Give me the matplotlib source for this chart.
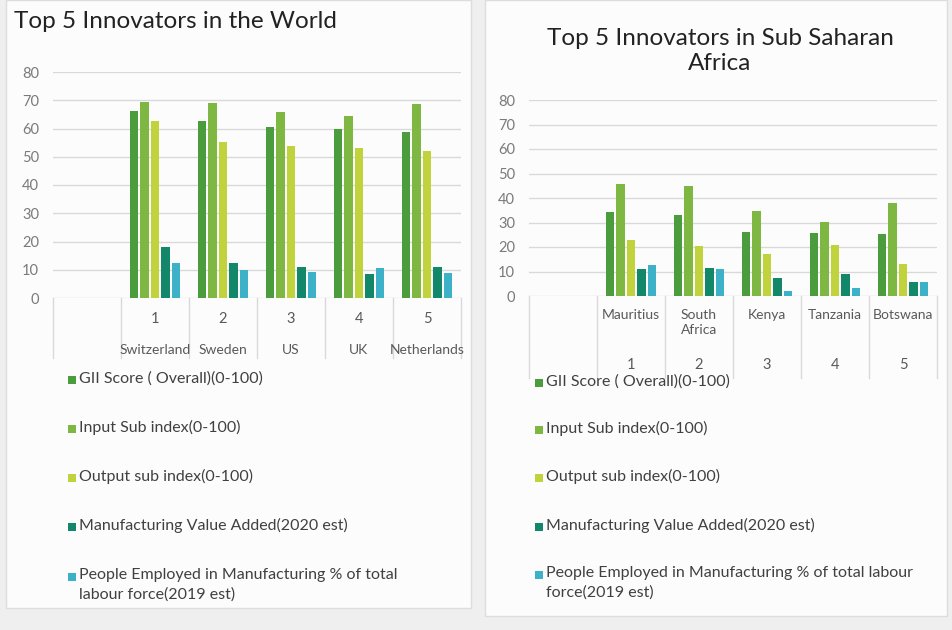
import matplotlib.pyplot as plt
from matplotlib.patches import Rectangle
from matplotlib.transforms import blended_transform_factory

plt.rcParams['font.family'] = ['Lato', 'DejaVu Sans']

# Series names and colours
series = ['GII Score ( Overall)(0-100)',
          'Input Sub index(0-100)',
          'Output sub index(0-100)',
          'Manufacturing Value Added(2020 est)',
          'People Employed in Manufacturing % of total\nlabour force(2019 est)']
series_right = series[:4] + ['People Employed in Manufacturing % of total labour\nforce(2019 est)']
colors = ['#4b9c3c', '#7fb743', '#c0d33d', '#13876a', '#3cb1c8']

# World top 5
world_countries = ['Switzerland', 'Sweden', 'US', 'UK', 'Netherlands']
world_gii = [66.1, 62.6, 60.4, 59.8, 58.6]
world_input = [69.4, 69.1, 66.0, 64.4, 68.8]
world_output = [62.7, 55.3, 53.8, 53.2, 52.0]
world_mva = [17.9, 12.4, 10.8, 8.4, 10.9]
world_people = [12.4, 9.8, 9.2, 10.6, 8.8]

# Sub Saharan Africa top 5
ssa_countries = ['Mauritius', 'South\nAfrica', 'Kenya', 'Tanzania', 'Botswana']
ssa_gii = [34.4, 33.0, 26.0, 25.6, 25.3]
ssa_input = [45.6, 44.9, 34.8, 30.3, 37.8]
ssa_output = [22.9, 20.5, 17.1, 20.8, 12.9]
ssa_mva = [10.9, 11.3, 7.5, 8.8, 5.6]
ssa_people = [12.7, 11.0, 2.0, 3.1, 5.8]

ranks = ['1', '2', '3', '4', '5']

W, H = 952, 630
fig = plt.figure(figsize=(W / 100, H / 100), dpi=100)
fig.patch.set_facecolor('#efefef')


def px(x0, y0, x1, y1):
    # pixel box -> figure fraction rect
    return [x0 / W, 1 - y1 / H, (x1 - x0) / W, (y1 - y0) / H]


# panel backgrounds
for (x0, y0, x1, y1) in [(6, 0, 471, 608), (485, 0, 947, 616)]:
    fig.patches.append(Rectangle((x0 / W, 1 - y1 / H), (x1 - x0) / W, (y1 - y0) / H,
                                 transform=fig.transFigure, facecolor='#fcfcfc',
                                 edgecolor='#dddddd', lw=1.0, zorder=-5))


def draw_panel(rect, values, countries, rank_y, country_y, line_depth, ranks_first):
    ax = fig.add_axes(rect, zorder=2)
    ax.set_facecolor('none')
    n = len(countries)
    width = 0.125
    step = 0.153
    for i, vals in enumerate(values):
        xs = [1 + k + 0.5 + (i - 2) * step for k in range(n)]
        ax.bar(xs, vals, width, color=colors[i], zorder=3)
    ax.set_xlim(0, n + 1)
    ax.set_ylim(0, 80)
    ax.set_yticks(range(0, 81, 10))
    ax.yaxis.grid(True, color='#d9d9d9', lw=1.0, zorder=0)
    ax.tick_params(axis='y', length=0, pad=10, labelsize=10.5, labelcolor='#7a7a7a')
    ax.set_xticks([])
    for s in ax.spines.values():
        s.set_visible(False)
    tr = blended_transform_factory(ax.transData, ax.transAxes)
    for k in range(n + 2):
        ax.plot([k, k], [0, -line_depth], transform=tr, color='#d9d9d9', lw=1.0, clip_on=False)
    for k in range(n):
        ax.text(k + 1.5, rank_y, ranks[k], transform=tr, ha='center', va='center',
                fontsize=10.5, color='#595959')
        ax.text(k + 1.5, country_y, countries[k], transform=tr, ha='center',
                va='top' if not ranks_first else 'center', fontsize=10, color='#595959',
                linespacing=1.3)
    return ax


# left panel: 0 at y=298, 80 at y=72
draw_panel(px(53, 72, 461, 298),
           [world_gii, world_input, world_output, world_mva, world_people],
           world_countries, -(319 - 298) / 226, -(350 - 298) / 226, (358 - 298) / 226, True)

# right panel: 0 at y=296, 80 at y=100
draw_panel(px(529, 100, 937, 296),
           [ssa_gii, ssa_input, ssa_output, ssa_mva, ssa_people],
           ssa_countries, -(365 - 296) / 196, -(309 - 296) / 196, (378 - 296) / 196, False)

# titles
fig.text(14 / W, 1 - 22 / H, 'Top 5 Innovators in the World', ha='left', va='center',
         fontsize=17.5, color='#222222')
fig.text(720 / W, 1 - 51 / H, 'Top 5 Innovators in Sub Saharan\nAfrica', ha='center',
         va='center', fontsize=17.5, color='#222222', linespacing=1.25)


def draw_legend(labels, mx, ys):
    for i, (lab, yc) in enumerate(zip(labels, ys)):
        fig.patches.append(Rectangle(((mx) / W, 1 - (yc + 4) / H), 8 / W, 8 / H,
                                     transform=fig.transFigure, facecolor=colors[i],
                                     edgecolor='none'))
        fig.text((mx + 11) / W, 1 - (yc - 9) / H, lab, ha='left', va='top',
                 fontsize=11.5, color='#404040', linespacing=1.45)


draw_legend(series, 68, [380, 429, 478, 527, 577])
draw_legend(series_right, 535, [383, 430, 478, 527, 575])

fig.savefig('out.png', dpi=100, facecolor=fig.get_facecolor())
